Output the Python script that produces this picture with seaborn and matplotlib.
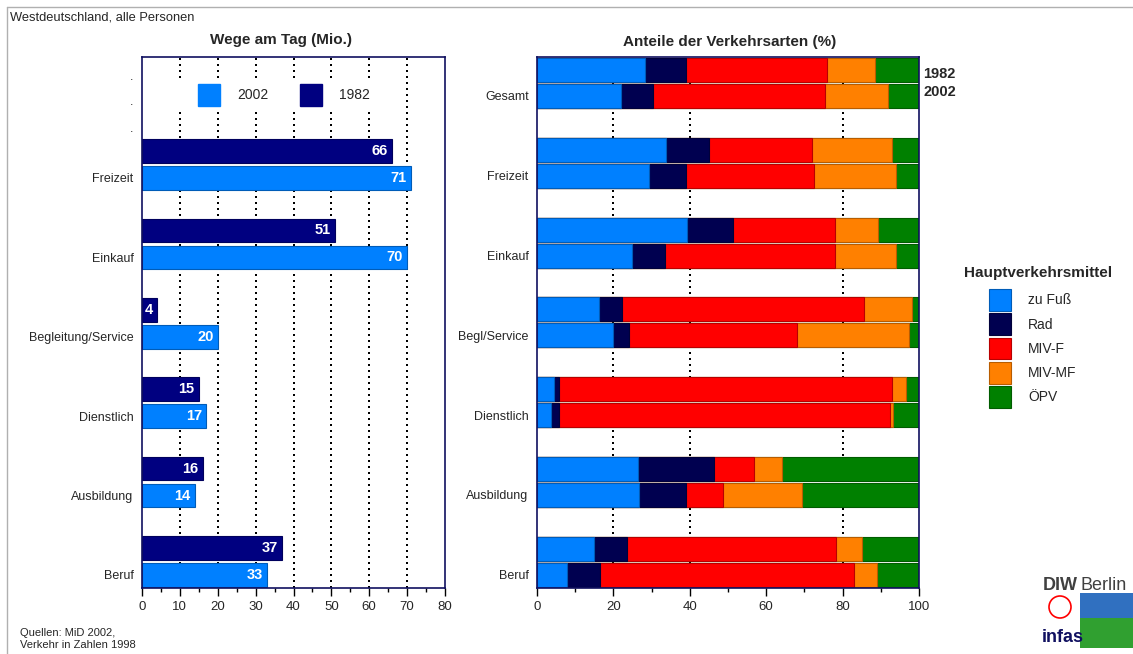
import pandas as pd
import matplotlib.pyplot as plt
import matplotlib.patches as mpatches
import matplotlib.colors as mcolors
from matplotlib.lines import Line2D
import seaborn as sns

sns.set_style("ticks")
plt.rcParams["font.family"] = ["Liberation Sans", "DejaVu Sans"]

# Wege am Tag (Mio.)
zwecke = ["Freizeit", "Einkauf", "Begleitung/Service", "Dienstlich", "Ausbildung", "Beruf"]
wege_1982 = [66, 51, 4, 15, 16, 37]
wege_2002 = [71, 70, 20, 17, 14, 33]

# Anteile der Verkehrsarten (%)
zwecke_kurz = ["Gesamt", "Freizeit", "Einkauf", "Begl/Service", "Dienstlich", "Ausbildung", "Beruf"]
arten = ["zu Fuß", "Rad", "MIV-F", "MIV-MF", "ÖPV"]
fuss_1982 = [28.2, 33.7, 39.2, 16.3, 4.4, 26.4, 14.9]
rad_1982 = [10.7, 11.2, 12.2, 5.9, 1.4, 19.9, 8.6]
mivf_1982 = [37.0, 27.2, 26.7, 63.5, 87.2, 10.4, 54.8]
mivmf_1982 = [12.6, 20.9, 11.1, 12.5, 3.5, 7.4, 6.8]
oepv_1982 = [11.5, 7.0, 10.8, 1.8, 3.5, 35.9, 14.9]
fuss_2002 = [21.9, 29.3, 24.9, 19.8, 3.7, 26.8, 7.8]
rad_2002 = [8.4, 9.6, 8.5, 4.3, 2.1, 12.1, 8.8]
mivf_2002 = [45.0, 33.5, 44.6, 43.9, 86.6, 9.7, 66.5]
mivmf_2002 = [16.7, 21.7, 16.0, 29.5, 0.9, 20.7, 5.8]
oepv_2002 = [8.0, 5.9, 6.0, 2.5, 6.7, 30.7, 11.1]

farben_jahr = {"1982": "#000080", "2002": "#0080ff"}
farben_art = ["#0080ff", "#000050", "#ff0000", "#ff8000", "#008000"]


def dunkler(farbe, f=0.72):
    r, g, b = mcolors.to_rgb(farbe)
    return (r * f, g * f, b * f)


# DataFrames
df_wege = pd.DataFrame({
    "Zweck": zwecke * 2,
    "Jahr": ["1982"] * len(zwecke) + ["2002"] * len(zwecke),
    "Wege": wege_1982 + wege_2002,
})

rows = []
for jahr, teile in [("1982", [fuss_1982, rad_1982, mivf_1982, mivmf_1982, oepv_1982]),
                    ("2002", [fuss_2002, rad_2002, mivf_2002, mivmf_2002, oepv_2002])]:
    for i, z in enumerate(zwecke_kurz):
        cum = 0
        for art, werte in zip(arten, teile):
            cum += werte[i]
            rows.append({"Zweck": z, "Jahr": jahr, "Art": art, "Kumuliert": cum})
df_anteile = pd.DataFrame(rows)

W, H = 1133, 654
fig = plt.figure(figsize=(W / 100, H / 100), dpi=100)
ax1 = fig.add_axes([142 / W, 1 - 588 / H, 303 / W, 531 / H])
ax2 = fig.add_axes([537 / W, 1 - 588 / H, 382 / W, 531 / H])

dots = (0, (1, 2))
navy = "#101060"

# --- linkes Diagramm ---
for v in range(10, 80, 10):
    ax1.axvline(v, color="black", lw=1.44, ls=dots, zorder=0)
sns.barplot(data=df_wege, x="Wege", y="Zweck", hue="Jahr", hue_order=["1982", "2002"],
            order=zwecke, palette=farben_jahr, width=0.68, gap=0.12, saturation=1,
            legend=False, errorbar=None, ax=ax1, zorder=2)
for p in ax1.patches:
    p.set_edgecolor(dunkler(p.get_facecolor()[:3]))
    p.set_linewidth(0.8)
    w = p.get_width()
    ax1.annotate(f"{w:.0f}", (w, p.get_y() + p.get_height() / 2), xytext=(-3, 0),
                 textcoords="offset points", ha="right", va="center",
                 color="white", fontweight="bold", fontsize=10.5, zorder=4)
ax1.set_xlim(0, 80)
ax1.set_ylim(5.334, -1.354)
ax1.set_xticks(range(0, 90, 10))
ax1.set_xticks(range(5, 80, 10), minor=True)
ax1.set_yticks([-1.127, -0.80, -0.47] + [i + 0.17 for i in range(len(zwecke))])
ax1.set_yticklabels(["."] * 3 + zwecke)
ax1.set_xlabel("")
ax1.set_ylabel("")
# weisser Hintergrund der Legende (verdeckt Gitterlinien)
ax1.add_patch(mpatches.Rectangle(((175 - 142) / 303, (588 - 112) / 531), 220 / 303, 32 / 531,
                                 transform=ax1.transAxes, facecolor="white",
                                 edgecolor="none", zorder=1))
leg_handles = [mpatches.Patch(color=farben_jahr["2002"], label="2002"),
               mpatches.Patch(color=farben_jahr["1982"], label="1982")]
ax1.legend(handles=leg_handles, ncol=2, loc="center", bbox_to_anchor=(0.468, 0.929),
           frameon=False, fontsize=10, handlelength=1.6, handleheight=2.05,
           handletextpad=1.2, columnspacing=2.3, borderpad=0.1)

# --- rechtes Diagramm (gestapelt) ---
for v in [20, 40, 80]:
    ax2.axvline(v, color="black", lw=1.44, ls=dots, zorder=0)
for art, farbe in reversed(list(zip(arten, farben_art))):
    sns.barplot(data=df_anteile[df_anteile["Art"] == art], x="Kumuliert", y="Zweck",
                hue="Jahr", hue_order=["1982", "2002"], order=zwecke_kurz,
                palette=[farbe, farbe], width=0.65, gap=0.077, saturation=1,
                edgecolor=dunkler(farbe), linewidth=0.8,
                legend=False, errorbar=None, ax=ax2, zorder=2)
ax2.set_xlim(0, 100)
ax2.set_ylim(6.328, -0.326)
ax2.set_xticks(range(0, 120, 20))
ax2.set_xticks(range(10, 100, 20), minor=True)
ax2.set_yticks([i + 0.1625 for i in range(len(zwecke_kurz))])
ax2.set_yticklabels(zwecke_kurz)
ax2.set_xlabel("")
ax2.set_ylabel("")
ax2.text(101.2, -0.113, "1982", fontsize=10.5, fontweight="bold", va="center", clip_on=False)
ax2.text(101.2, 0.113, "2002", fontsize=10.5, fontweight="bold", va="center", clip_on=False)

for ax in (ax1, ax2):
    for s in ax.spines.values():
        s.set_visible(True)
        s.set_color(navy)
        s.set_linewidth(1.2)
        s.set_zorder(5)
    ax.tick_params(axis="x", which="major", length=6, width=1, labelsize=9.5, color="black")
    ax.tick_params(axis="x", which="minor", length=3, width=1, color="black")
    ax.tick_params(axis="y", length=0, labelsize=9, pad=6)

# Titel und Texte
fig.text(10 / W, 1 - 18 / H, "Westdeutschland, alle Personen", fontsize=9.3, va="center")
fig.text(281 / W, 1 - 40 / H, "Wege am Tag (Mio.)", fontsize=11, fontweight="bold",
         ha="center", va="center")
fig.text(730 / W, 1 - 42 / H, "Anteile der Verkehrsarten (%)", fontsize=11,
         fontweight="bold", ha="center", va="center")
fig.text(20 / W, 1 - 639 / H, "Quellen: MiD 2002,\nVerkehr in Zahlen 1998", fontsize=8,
         va="center", linespacing=1.35)

# Legende Hauptverkehrsmittel
fig.text(964 / W, 1 - 273 / H, "Hauptverkehrsmittel", fontsize=11, fontweight="bold",
         va="center")
art_handles = [mpatches.Patch(facecolor=c, edgecolor=dunkler(c), lw=0.8, label=a)
               for a, c in zip(arten, farben_art)]
fig.legend(handles=art_handles, loc="upper left",
           bbox_to_anchor=(989 / W, 1 - 289 / H), frameon=False, fontsize=10,
           handlelength=1.6, handleheight=2.05, handletextpad=1.2,
           labelspacing=0.17, borderpad=0, borderaxespad=0)

# Rahmen
fig.add_artist(Line2D([7 / W, 1], [1 - 7 / H] * 2, color="#b0b0b0", lw=1, transform=fig.transFigure))
fig.add_artist(Line2D([7 / W] * 2, [0, 1 - 7 / H], color="#b0b0b0", lw=1, transform=fig.transFigure))

# Logos
fig.text(1043 / W, 1 - 586 / H, "DIW", fontsize=13, fontweight="bold", color="#404040", va="center")
fig.text(1080 / W, 1 - 586 / H, "Berlin", fontsize=13, color="#404040", va="center")
fig.text(1042 / W, 1 - 637 / H, "infas", fontsize=13, fontweight="bold", color="#101060", va="center")
fig.add_artist(mpatches.Ellipse((1060 / W, 1 - 607 / H), 22 / W, 22 / H, transform=fig.transFigure,
                                facecolor="white", edgecolor="red", lw=1.2))
fig.add_artist(mpatches.Rectangle((1080 / W, 6 / H), 53 / W, 55 / H, transform=fig.transFigure,
                                  facecolor="#30a030", edgecolor="none"))
fig.add_artist(mpatches.Rectangle((1080 / W, 36 / H), 53 / W, 25 / H, transform=fig.transFigure,
                                  facecolor="#3070c0", edgecolor="none"))

fig.savefig("out.png", dpi=100)
